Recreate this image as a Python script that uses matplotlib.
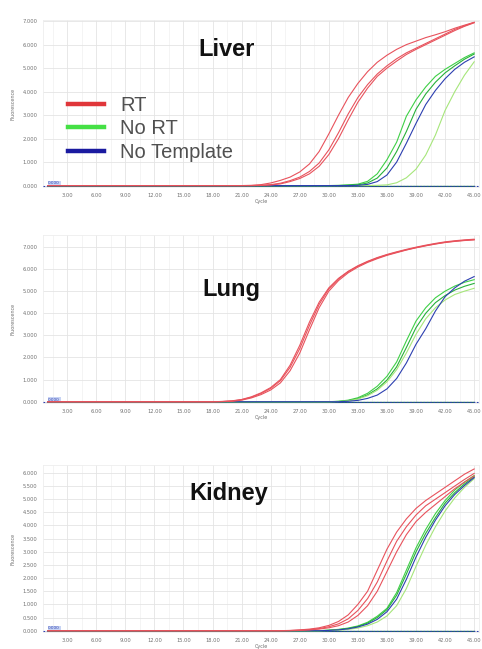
import numpy as np
import matplotlib
matplotlib.use("Agg")
import matplotlib.pyplot as plt
from matplotlib.lines import Line2D

# cycles 19..45; every curve sits flat at 0 before cycle 19
cycles = np.arange(19, 46)
lead_cycles = np.arange(1, 19)
lead_values = [0.0] * 18

# ---- Liver ----
liver_rt_1 = [0, 0, 0, 10, 40, 110, 220, 360, 580, 920, 1450, 2200, 3000, 3750, 4350, 4850,
              5250, 5550, 5800, 6000, 6150, 6300, 6420, 6550, 6700, 6830, 6950]
liver_rt_2 = [0, 0, 0, 0, 10, 40, 100, 210, 360, 600, 960, 1520, 2250, 3050, 3750, 4300,
              4750, 5100, 5400, 5650, 5850, 6050, 6250, 6450, 6650, 6800, 6950]
liver_rt_3 = [0, 0, 0, 0, 5, 25, 70, 170, 300, 500, 820, 1320, 2000, 2800, 3550, 4150,
              4650, 5000, 5300, 5580, 5800, 6000, 6200, 6400, 6600, 6780, 6930]
liver_nort_1 = [0] * 12 + [10, 30, 60, 180, 500, 1100, 1850, 2950, 3650, 4200, 4650, 4950, 5200, 5450, 5650]
liver_nort_2 = [0] * 13 + [15, 30, 110, 320, 750, 1450, 2300, 3250, 3900, 4400, 4800, 5100, 5380, 5600]
liver_nort_3 = [0] * 16 + [10, 30, 120, 330, 700, 1300, 2150, 3200, 4000, 4700, 5270]
liver_ntc = [0] * 14 + [10, 50, 170, 450, 1000, 1800, 2650, 3450, 4050, 4550, 4950, 5250, 5480]

# ---- Lung ----
lung_rt_1 = [10, 30, 90, 200, 370, 600, 950, 1550, 2400, 3450, 4400, 5100, 5550, 5880, 6130, 6330,
             6500, 6640, 6760, 6870, 6970, 7060, 7140, 7210, 7260, 7300, 7330]
lung_rt_2 = [5, 20, 70, 170, 320, 530, 850, 1400, 2200, 3250, 4250, 5000, 5480, 5830, 6090, 6300,
             6470, 6620, 6740, 6860, 6960, 7050, 7130, 7200, 7250, 7290, 7320]
lung_rt_3 = [10, 40, 100, 220, 400, 640, 1000, 1650, 2550, 3600, 4500, 5150, 5580, 5900, 6150, 6350,
             6520, 6660, 6780, 6890, 6990, 7080, 7160, 7230, 7280, 7320, 7350]
lung_nort_1 = [0] * 12 + [20, 70, 180, 380, 700, 1150, 1800, 2750, 3650, 4250, 4700, 5000, 5230, 5400, 5520]
lung_nort_2 = [0] * 12 + [10, 50, 140, 310, 580, 980, 1580, 2450, 3350, 4000, 4480, 4800, 5050, 5220, 5350]
lung_nort_3 = [0] * 12 + [10, 40, 120, 270, 520, 900, 1450, 2200, 3050, 3750, 4250, 4600, 4850, 5000, 5130]
lung_ntc = [0] * 13 + [20, 60, 150, 300, 580, 1050, 1750, 2600, 3300, 4100, 4750, 5150, 5450, 5660]

# ---- Kidney ----
kidney_rt_1 = [0] * 7 + [10, 30, 60, 110, 200, 350, 600, 1000, 1500, 2300, 3100, 3750, 4250, 4650,
                         4950, 5200, 5450, 5700, 5950, 6150]
kidney_rt_2 = [0] * 7 + [5, 20, 40, 80, 150, 260, 450, 770, 1220, 1850, 2650, 3400, 3950, 4400,
                         4750, 5000, 5250, 5500, 5750, 5980]
kidney_rt_3 = [0] * 7 + [0, 10, 30, 60, 110, 190, 330, 580, 950, 1500, 2250, 3000, 3650, 4150,
                         4500, 4800, 5100, 5400, 5650, 5880]
kidney_nort_1 = [0] * 11 + [20, 50, 100, 180, 320, 550, 850, 1450, 2300, 3150, 3850, 4450, 4950, 5350, 5650, 5900]
kidney_nort_2 = [0] * 11 + [15, 40, 85, 160, 290, 500, 800, 1350, 2150, 3000, 3700, 4300, 4850, 5250, 5580, 5850]
kidney_nort_3 = [0] * 11 + [5, 20, 50, 100, 190, 330, 560, 950, 1600, 2450, 3250, 3950, 4550, 5050, 5450, 5780]
kidney_ntc = [0] * 11 + [10, 30, 70, 140, 250, 430, 720, 1200, 1950, 2800, 3550, 4200, 4750, 5180, 5520, 5820]

x_ticks = np.arange(3, 46, 3)
liver_yticks = np.arange(0, 7001, 1000)
lung_yticks = np.arange(0, 7001, 1000)
kidney_yticks = np.arange(0, 6001, 500)

RED = "#e8525c"
GREENS = ["#3ed046", "#27b03a", "#a6e67a"]
BLUE = "#2c3fb0"

fig = plt.figure(figsize=(4.82, 6.49), dpi=100)

panels = [
    ("Liver", [0.0892, 0.7119, 0.9046, 0.2573], (-60, 7050), liver_yticks,
     [liver_rt_1, liver_rt_2, liver_rt_3], [liver_nort_1, liver_nort_2, liver_nort_3], liver_ntc,
     (0.42, 0.826)),
    ("Lung", [0.0892, 0.3790, 0.9046, 0.2589], (-60, 7540), lung_yticks,
     [lung_rt_1, lung_rt_2, lung_rt_3], [lung_nort_1, lung_nort_2, lung_nort_3], lung_ntc,
     (0.433, 0.673)),
    ("Kidney", [0.0892, 0.0262, 0.9046, 0.2573], (-50, 6300), kidney_yticks,
     [kidney_rt_1, kidney_rt_2, kidney_rt_3], [kidney_nort_1, kidney_nort_2, kidney_nort_3], kidney_ntc,
     (0.427, 0.832)),
]

for name, pos, ylim, yticks, rt, nort, ntc, tpos in panels:
    ax = fig.add_axes(pos)
    ax.set_xlim(0.5, 45.5)
    ax.set_ylim(*ylim)
    ax.set_xticks(x_ticks)
    ax.set_xticklabels([f"{v:.2f}" for v in x_ticks])
    ax.set_xticks(np.arange(1.5, 46, 3), minor=True)
    ax.set_yticks(yticks)
    ax.set_yticklabels([f"{v / 1000:.3f}" for v in yticks])
    ax.tick_params(labelsize=3.7, colors="#707070", length=0, pad=4)
    ax.tick_params(which="minor", length=0)
    ax.grid(True, which="major", color="#e4e4e4", lw=0.6)
    ax.grid(True, which="minor", axis="x", color="#f0f0f0", lw=0.5)
    ax.set_axisbelow(True)
    for s in ax.spines.values():
        s.set_color("#eeeeee")
        s.set_linewidth(0.6)
    ax.set_ylabel("Fluorescence", fontsize=3.5, color="#707070", labelpad=5)
    ax.set_xlabel("Cycle", fontsize=3.5, color="#707070", labelpad=1)

    # baseline traces and threshold
    ax.plot(np.concatenate([lead_cycles, cycles]), np.concatenate([lead_values, [0] * len(cycles)]),
            color="#1f6f5a", lw=1.0, zorder=2)
    ax.axhline(0, color=BLUE, lw=0.8, ls=(0, (1.5, 1.5)), zorder=3)
    ax.text(0.012, 0.015, "0.000", transform=ax.transAxes, fontsize=3, color=BLUE,
            bbox=dict(boxstyle="square,pad=0.15", fc="#c8d4f4", ec="none"), zorder=4)

    for vals in rt:
        ax.plot(np.concatenate([lead_cycles, cycles]), np.concatenate([lead_values, vals]),
                color=RED, lw=0.8, zorder=5)
    for vals, c in zip(nort, GREENS):
        ax.plot(np.concatenate([lead_cycles, cycles]), np.concatenate([lead_values, vals]),
                color=c, lw=0.8, zorder=4)
    ax.plot(np.concatenate([lead_cycles, cycles]), np.concatenate([lead_values, ntc]),
            color=BLUE, lw=0.8, zorder=4)

    ax.text(tpos[0], tpos[1], name, transform=ax.transAxes, ha="center", va="center",
            fontsize=17, fontweight="bold", family="Liberation Sans", color="#111111")

    if name == "Liver":
        handles = [Line2D([], [], color="#e0363a", lw=3.2),
                   Line2D([], [], color="#45e045", lw=3.2),
                   Line2D([], [], color="#1a1aa0", lw=3.2)]
        ax.legend(handles, ["RT", "No RT", "No Template"], loc="upper left",
                  bbox_to_anchor=(0.057, 0.545), frameon=False, borderpad=0, borderaxespad=0,
                  handlelength=1.8, handletextpad=0.8, labelspacing=0.22,
                  prop={"family": "Liberation Sans", "size": 14.5}, labelcolor="#505050")

fig.savefig("out.png", dpi=100)
